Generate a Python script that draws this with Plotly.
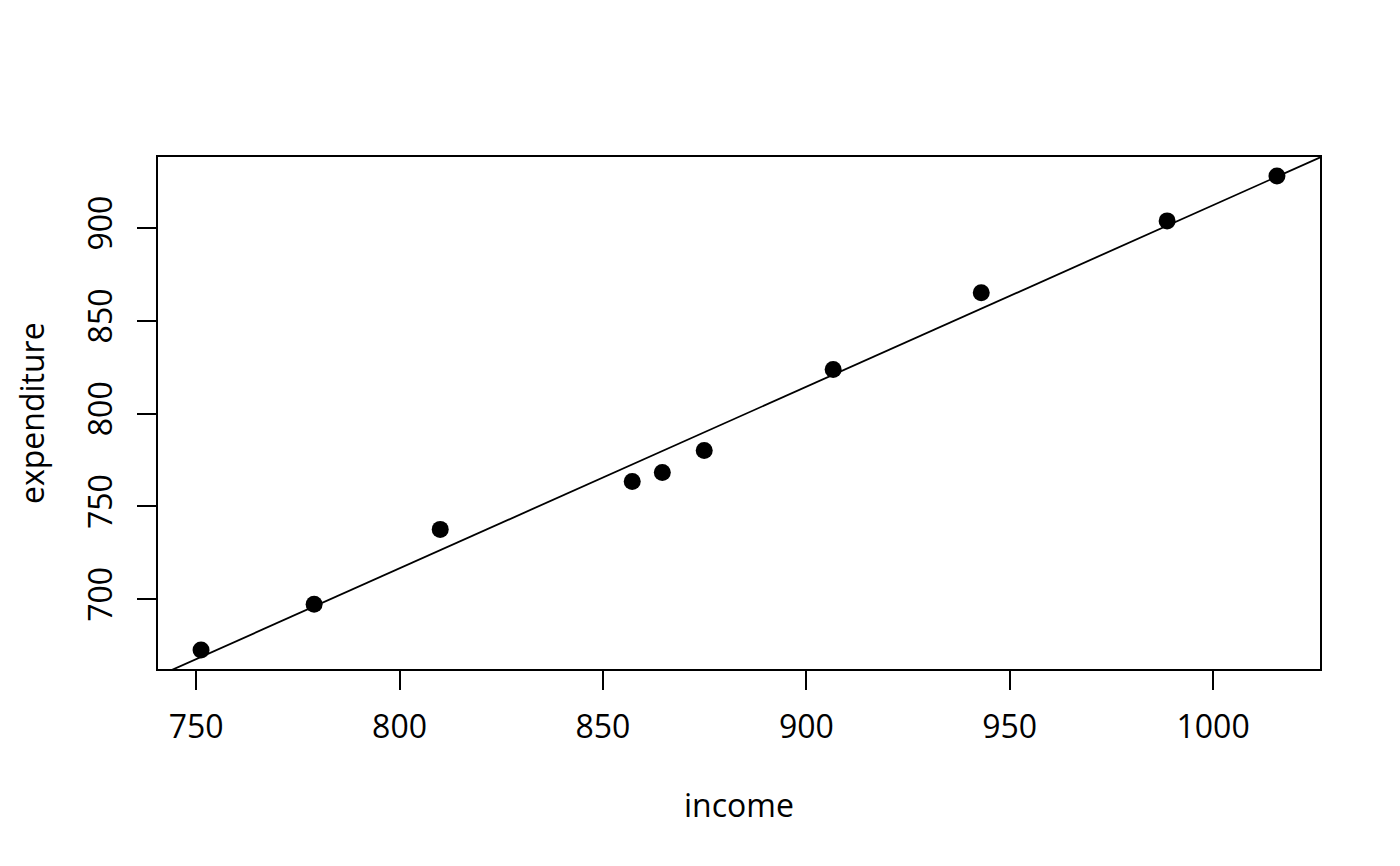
import numpy as np
import plotly.graph_objects as go

# income vs expenditure
income = [751.2, 779.0, 810.0, 857.2, 864.6, 874.9, 906.6, 943.0, 988.7, 1015.7]
expenditure = [672.6, 697.3, 737.6, 763.4, 768.3, 780.1, 823.7, 865.1, 903.8, 928.0]
x_ticks = [750, 800, 850, 900, 950, 1000]
y_ticks = [700, 750, 800, 850, 900]

FONT = "Open Sans"
FS = 32


def r_range(v):
    # R's default 4% padding on each side
    lo, hi = min(v), max(v)
    d = (hi - lo) * 0.04
    return [lo - d, hi + d]


xr = r_range(income)
yr = r_range(expenditure)

# least-squares line (abline(lm(...)))
slope, intercept = np.polyfit(income, expenditure, 1)
line_x = [xr[0] - 20, xr[1] + 20]
line_y = [intercept + slope * v for v in line_x]

fig = go.Figure()
fig.add_trace(
    go.Scatter(
        x=line_x, y=line_y, mode="lines",
        line=dict(color="black", width=1.8),
        hoverinfo="skip",
    )
)
fig.add_trace(
    go.Scatter(
        x=income, y=expenditure, mode="markers",
        marker=dict(color="black", size=17),
        cliponaxis=False,
    )
)

axis_common = dict(
    showgrid=False, zeroline=False,
    showline=True, mirror=True, linecolor="black", linewidth=2,
    ticks="outside", ticklen=19, tickwidth=2, tickcolor="black",
    tickfont=dict(family=FONT, size=FS, color="black"),
)
fig.update_xaxes(range=xr, tickvals=x_ticks, ticklabelstandoff=10, **axis_common)
fig.update_yaxes(range=yr, tickvals=y_ticks, tickangle=-90, ticklabelstandoff=12, **axis_common)

fig.add_annotation(
    text="income", xref="paper", yref="paper", x=0.5, y=0,
    xanchor="center", yanchor="middle", yshift=-135,
    showarrow=False, font=dict(family=FONT, size=FS, color="black"),
)
fig.add_annotation(
    text="expenditure", xref="paper", yref="paper", x=0, y=0.5,
    xanchor="center", yanchor="middle", xshift=-127,
    textangle=-90, showarrow=False, font=dict(family=FONT, size=FS, color="black"),
)

# the page body adds ~8px, so the figure is shifted up/left to compensate
fig.update_layout(
    width=1384, height=850,
    margin=dict(l=150, r=72, t=149, b=189),
    plot_bgcolor="white", paper_bgcolor="white",
    showlegend=False,
)
fig.write_html("out.html")
